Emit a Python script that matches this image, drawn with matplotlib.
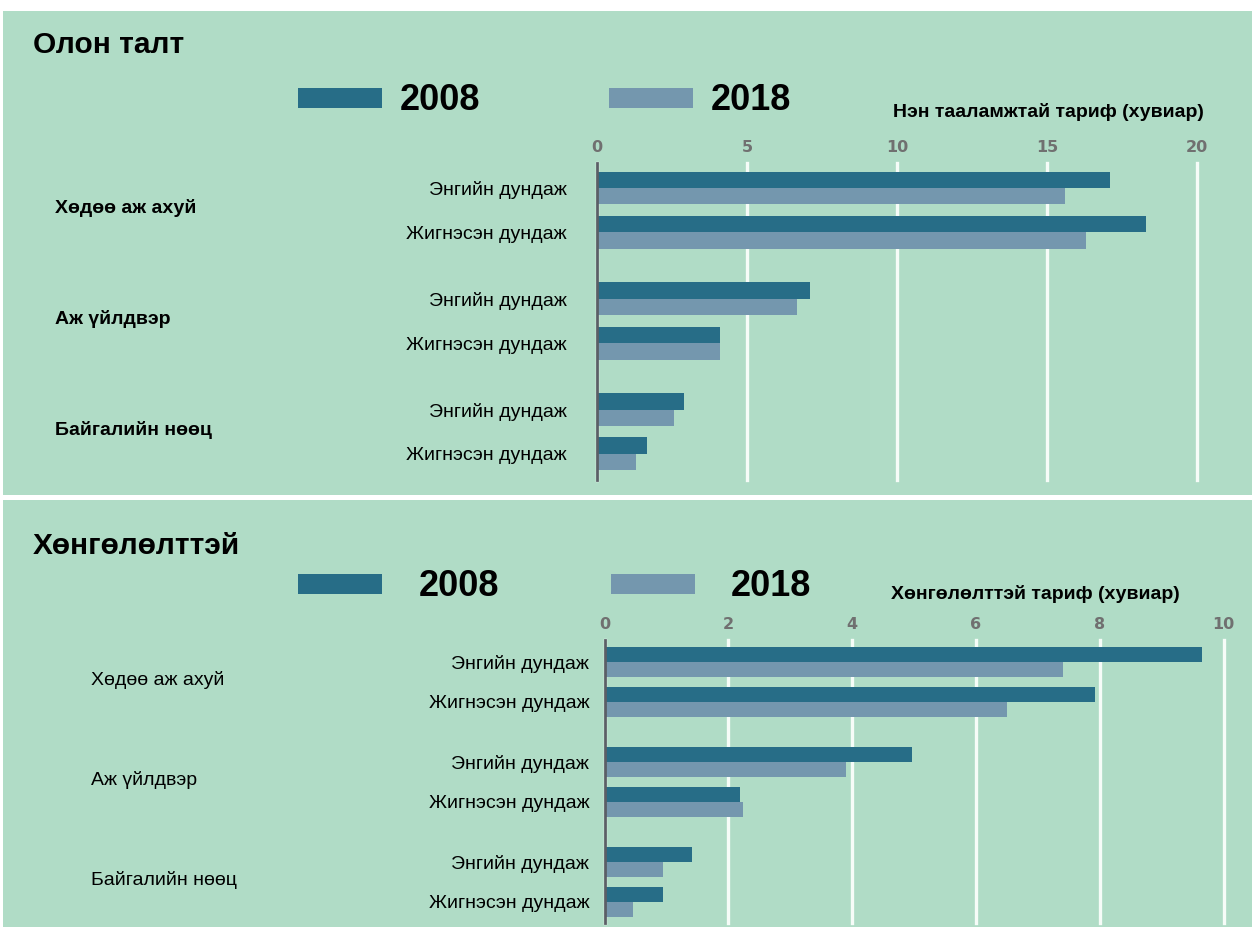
import numpy as np
import matplotlib
matplotlib.use("Agg")
import matplotlib.pyplot as plt
import matplotlib.transforms as mtransforms
from matplotlib.patches import Rectangle

plt.rcParams['font.family'] = ['Liberation Sans', 'DejaVu Sans']

# ------------------------------------------------------------------
# Data
# ------------------------------------------------------------------
years = ["2008", "2018"]
sectors = ["Хөдөө аж ахуй", "Аж үйлдвэр", "Байгалийн нөөц"]
measures = ["Энгийн дундаж", "Жигнэсэн дундаж"]

# Нэн тааламжтай тариф (MFN), %
mfn_2008 = [17.1, 18.3, 7.1, 4.1, 2.9, 1.65]
mfn_2018 = [15.6, 16.3, 6.65, 4.1, 2.55, 1.3]
mfn_ticks = [0, 5, 10, 15, 20]

# Хөнгөлөлттэй тариф, %
pref_2008 = [9.65, 7.92, 4.97, 2.19, 1.42, 0.94]
pref_2018 = [7.40, 6.51, 3.90, 2.24, 0.94, 0.46]
pref_ticks = [0, 2, 4, 6, 8, 10]

W, H = 1252, 927
BG = "#b0dcc6"
DARK = "#276d87"
LIGHT = "#7497ae"


def fx(px):
    return px / W


def fy(py):
    return 1 - py / H


def add_background(fig, left, top, right, bottom):
    fig.add_artist(Rectangle((fx(left), fy(bottom)), fx(right) - fx(left), (bottom - top) / H,
                             transform=fig.transFigure, facecolor=BG, edgecolor="none", zorder=-5))


def draw_panel(fig, cfg, v2008, v2018):
    l, t, r, b = cfg["axes_px"]
    ax = fig.add_axes([fx(l), fy(b), fx(r) - fx(l), (b - t) / H])
    ax.set_facecolor("none")

    pos = np.array([g * 2.5 + m for g in range(len(sectors)) for m in range(len(measures))])
    h = cfg["bar_h"]
    b1 = ax.barh(pos - h / 2, v2008, height=h, color=DARK, label=years[0], zorder=3)
    b2 = ax.barh(pos + h / 2, v2018, height=h, color=LIGHT, label=years[1], zorder=3)

    ax.set_xlim(0, cfg["ticks"][-1])
    ax.set_ylim(cfg["ylim"])

    # x axis on top, grey wide digits
    ax.set_xticks(cfg["ticks"])
    ax.xaxis.tick_top()
    ax.tick_params(axis="x", length=0, pad=cfg["xpad"], labelsize=11.5, labelcolor="#707070")
    for lab in ax.get_xticklabels():
        lab.set_fontweight("bold")
        lab.set_family("DejaVu Sans")

    ax.set_yticks(pos)
    ax.set_yticklabels(measures * len(sectors), fontsize=14)
    ax.tick_params(axis="y", length=0, pad=cfg["ypad"])

    ax.grid(axis="x", color="#f6fcf8", linewidth=2.4)
    ax.grid(axis="y", visible=False)
    ax.set_axisbelow(True)
    for line in ax.get_xgridlines():
        line.set_clip_on(False)

    for s in ["top", "right", "bottom"]:
        ax.spines[s].set_visible(False)
    ax.spines["left"].set_color("#5a5f66")
    ax.spines["left"].set_linewidth(2)
    ax.spines["left"].set_zorder(4)

    # sector names to the far left
    trans = mtransforms.blended_transform_factory(fig.transFigure, ax.transData)
    for g, name in enumerate(sectors):
        ax.text(fx(cfg["sector_x"]), g * 2.5 + 0.45, name, transform=trans,
                ha="left", va="center", fontsize=14, fontweight=cfg["sector_weight"])

    fig.text(fx(33), fy(cfg["title_y"]), cfg["title"], fontsize=21.5, fontweight="bold",
             ha="left", va="center")
    fig.text(fx(cfg["xlabel_x"]), fy(cfg["xlabel_y"]), cfg["xlabel"], fontsize=14,
             fontweight="bold", ha="left", va="center")

    ax.legend(handles=[b1, b2], loc="center left",
              bbox_to_anchor=(fx(298), fy(cfg["legend_y"])), bbox_transform=fig.transFigure,
              ncol=2, frameon=False, prop=dict(weight="bold", size=26),
              handlelength=2.33, handleheight=0.47, handletextpad=cfg["textpad"],
              columnspacing=cfg["colspace"], borderpad=0, borderaxespad=0)
    return ax


panels = [
    dict(axes_px=(597, 163, 1197, 480), ticks=mfn_ticks, bar_h=0.372, ylim=(6.587, -0.564),
         xpad=6, ypad=22, sector_x=55, sector_weight="bold",
         title="Олон талт", title_y=45,
         xlabel="Нэн тааламжтай тариф (хувиар)", xlabel_x=893, xlabel_y=112,
         legend_y=101, textpad=0.5, colspace=3.55),
    dict(axes_px=(604.5, 640, 1223.5, 923), ticks=pref_ticks, bar_h=0.375, ylim=(6.525, -0.55),
         xpad=6, ypad=11, sector_x=91, sector_weight="normal",
         title="Хөнгөлөлттэй", title_y=546,
         xlabel="Хөнгөлөлттэй тариф (хувиар)", xlabel_x=891, xlabel_y=594,
         legend_y=587, textpad=1.0, colspace=3.1),
]

fig = plt.figure(figsize=(W / 100, H / 100), dpi=100, facecolor="white")
add_background(fig, 3, 11, W, 495)
add_background(fig, 3, 500, W, H)

draw_panel(fig, panels[0], mfn_2008, mfn_2018)
draw_panel(fig, panels[1], pref_2008, pref_2018)

fig.savefig("out.png", dpi=100, facecolor="white")
